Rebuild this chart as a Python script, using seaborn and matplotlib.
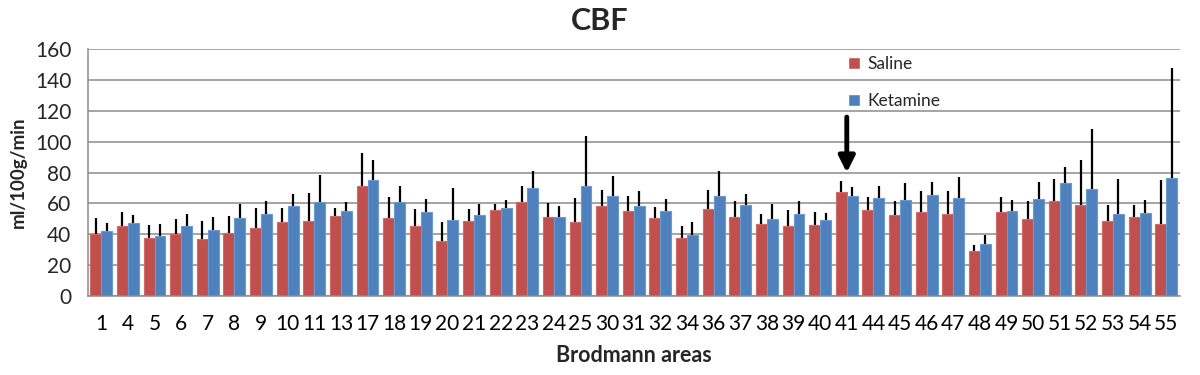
import numpy as np
import pandas as pd
import matplotlib
matplotlib.use("Agg")
import matplotlib.pyplot as plt
import seaborn as sns

areas = [1, 4, 5, 6, 7, 8, 9, 10, 11, 13, 17, 18, 19, 20, 21, 22, 23, 24, 25, 30,
         31, 32, 34, 36, 37, 38, 39, 40, 41, 44, 45, 46, 47, 48, 49, 50, 51, 52, 53, 54, 55]
saline = [40.4, 45.1, 37.6, 40.4, 36.9, 41.0, 43.8, 48.2, 48.8, 51.8, 71.5, 50.5, 45.4, 35.6,
          48.8, 55.6, 60.7, 51.0, 48.2, 58.1, 54.8, 50.3, 37.6, 56.2, 51.2, 46.9, 45.1, 46.0,
          67.2, 55.9, 52.3, 54.6, 53.3, 28.9, 54.4, 49.7, 61.8, 58.7, 48.6, 51.0, 46.7]
saline_sd = [10.4, 9.5, 8.4, 9.5, 11.5, 10.8, 13.2, 8.8, 17.7, 5.2, 20.9, 13.4, 11.0, 12.3,
             7.4, 4.0, 10.6, 9.0, 15.5, 10.6, 9.8, 7.4, 8.0, 12.3, 10.6, 6.4, 10.8, 8.6,
             7.5, 8.2, 9.3, 13.2, 14.5, 3.9, 9.5, 11.9, 13.8, 29.2, 10.1, 7.7, 28.7]
ketamine = [42.3, 47.1, 38.9, 45.6, 42.5, 50.5, 53.3, 58.3, 60.9, 55.3, 74.9, 60.7, 54.4, 49.5,
            52.7, 57.2, 70.2, 51.0, 71.1, 64.8, 58.1, 55.1, 39.3, 65.0, 59.0, 50.1, 52.9, 49.5,
            65.0, 63.3, 62.5, 65.2, 63.3, 33.9, 54.9, 62.6, 73.4, 69.3, 53.3, 53.8, 76.5]
ketamine_sd = [5.0, 5.4, 7.5, 7.4, 8.9, 9.3, 8.2, 7.7, 17.7, 5.4, 13.4, 10.6, 8.2, 20.7,
               6.7, 5.0, 10.8, 7.1, 32.6, 13.2, 10.2, 7.8, 8.9, 16.0, 7.3, 9.7, 8.4, 4.5,
               5.4, 8.2, 10.7, 8.4, 13.8, 5.4, 7.1, 11.5, 10.2, 39.1, 22.7, 8.4, 71.2]
groups = ["Saline", "Ketamine"]
arrow_area = "41"

sns.set_theme(style="white")
plt.rcParams["font.family"] = ["Lato", "DejaVu Sans"]

labels = [str(a) for a in areas]
df = pd.DataFrame({
    "area": labels * 2,
    "value": saline + ketamine,
    "group": [groups[0]] * len(areas) + [groups[1]] * len(areas),
})

fig = plt.figure(figsize=(12, 3.75), dpi=100)
ax = fig.add_axes([0.0733, 0.2107, 0.9097, 0.658])

colors = ["#C0504D", "#4F81BD"]
edges = ["#D46A67", "#6B9AD3"]
sns.barplot(data=df, x="area", y="value", hue="group", order=labels,
            hue_order=groups, palette=colors, width=0.82, errorbar=None,
            saturation=1, ax=ax, zorder=2)

for cont, ec, sd in zip(ax.containers, edges, [saline_sd, ketamine_sd]):
    xs, tops = [], []
    for bar in cont:
        bar.set_edgecolor(ec)
        bar.set_linewidth(0.8)
        xs.append(bar.get_x() + bar.get_width() / 2)
        tops.append(bar.get_height())
    tops = np.array(tops)
    ax.vlines(xs, tops, tops + np.array(sd), color="black", lw=1.6, zorder=3)

ax.set_ylim(0, 160)
ax.set_yticks(range(0, 161, 20))
ax.set_xlim(-0.5, len(areas) - 0.5)
ax.yaxis.grid(True, color="#8C8C8C", lw=1.1, zorder=0)
ax.set_axisbelow(True)
for s in ["top", "right"]:
    ax.spines[s].set_visible(False)
for s in ["left", "bottom"]:
    ax.spines[s].set_color("#8C8C8C")
    ax.spines[s].set_linewidth(1.1)

ax.set_xticks(np.arange(-0.5, len(areas), 1), minor=True)
ax.tick_params(axis="x", which="major", length=0, labelsize=15, pad=13, colors="black")
ax.tick_params(axis="x", which="minor", length=6, width=1.1, color="#8C8C8C", direction="out")
ax.tick_params(axis="y", which="major", length=5, width=1.1, color="#8C8C8C",
               direction="out", labelsize=15, pad=7)

ax.set_xlabel("Brodmann areas", fontsize=15.5, fontweight="bold", labelpad=8)
ax.set_ylabel("ml/100g/min", fontsize=13.5, fontweight="bold", labelpad=6)
fig.text(0.5, 0.945, "CBF", fontsize=22, fontweight="bold", ha="center", va="center")

ax.legend(loc="upper left", bbox_to_anchor=(0.682, 1.035), frameon=False,
          labelspacing=1.2, handlelength=0.7, handleheight=0.7, handletextpad=0.4,
          fontsize=12.5, title=None)

xi = labels.index(arrow_area)
ax.annotate("", xy=(xi, 80), xytext=(xi, 116),
            arrowprops=dict(arrowstyle="-|>", color="black", lw=3.5, mutation_scale=24,
                            shrinkA=0, shrinkB=0))

fig.savefig("out.png", dpi=100)
